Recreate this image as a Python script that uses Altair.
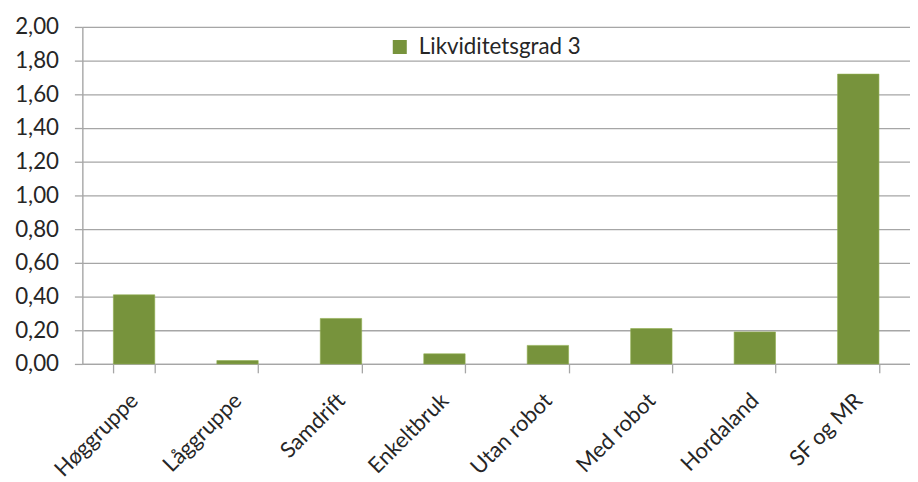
import altair as alt
import pandas as pd

categories = ["Høggruppe", "Låggruppe", "Samdrift", "Enkeltbruk", "Utan robot",
              "Med robot", "Hordaland", "SF og MR"]
values = [0.41, 0.02, 0.27, 0.06, 0.11, 0.21, 0.19, 1.72]
series_name = "Likviditetsgrad 3"
y_ticks = [0.0, 0.2, 0.4, 0.6, 0.8, 1.0, 1.2, 1.4, 1.6, 1.8, 2.0]

df = pd.DataFrame({"kategori": categories, "verdi": values, "serie": series_name})

FONT = "Lato"
GRID = "#a6a6a6"
TXT = "#262626"

chart = alt.Chart(df).mark_bar(color="#77933C", stroke="#8fae4e", strokeWidth=0.6).encode(
    x=alt.X("kategori:N", sort=categories, title=None,
            scale=alt.Scale(paddingInner=0.6, paddingOuter=0.3),
            axis=alt.Axis(labelAngle=-45, labelAlign="right", labelBaseline="middle",
                          labelPadding=24, tickBand="extent", tickSize=9,
                          tickColor=GRID, domainColor=GRID, tickWidth=1.3, domainWidth=1.3,
                          labelFont=FONT, labelFontSize=22, labelColor=TXT,
                          labelLimit=300, grid=False)),
    y=alt.Y("verdi:Q", title=None,
            scale=alt.Scale(domain=[0, 2.0], nice=False),
            axis=alt.Axis(values=y_ticks, labelExpr="replace(format(datum.value, '.2f'), '.', ',')",
                          tickSize=8, labelPadding=16, tickColor=GRID, domainColor=GRID,
                          gridColor=GRID, gridWidth=1.3, tickWidth=1.3, domainWidth=1.3,
                          labelFont=FONT, labelFontSize=22.5, labelColor=TXT)),
    color=alt.Color("serie:N", title=None,
                    scale=alt.Scale(domain=[series_name], range=["#77933C"]),
                    legend=alt.Legend(orient="none", legendX=309, legendY=9,
                                      symbolType="square", symbolSize=200,
                                      symbolStrokeWidth=0, labelFont=FONT,
                                      labelFontSize=22.5, labelColor=TXT,
                                      labelOffset=8, labelLimit=400)),
).properties(
    width=835, height=340,
    autosize=alt.AutoSizeParams(type="none"),
    padding={"left": 75, "top": 17, "right": 0, "bottom": 116},
).configure_view(stroke=None).configure(background="white")

chart.save("out.html", embed_options={"renderer": "svg", "actions": False})
